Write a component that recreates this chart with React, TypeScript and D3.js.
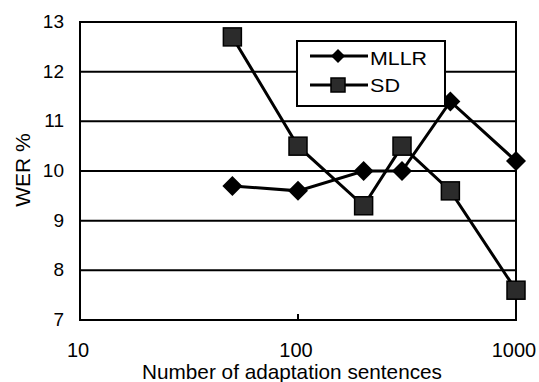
import React from "react";
import * as d3 from "d3";

const sentences = [50, 100, 200, 300, 500, 1000];
const mllr = [9.7, 9.6, 10.0, 10.0, 11.4, 10.2];
const sd = [12.7, 10.5, 9.3, 10.5, 9.6, 7.6];
const yTicks = [7, 8, 9, 10, 11, 12, 13];
const xTicks = [10, 100, 1000];

const width = 539;
const height = 382;
const margin = { left: 80, right: 23, top: 22, bottom: 62 };

const App: React.FC = () => {
  const x = d3
    .scaleLog()
    .domain([10, 1000])
    .range([margin.left, width - margin.right]);
  const y = d3
    .scaleLinear()
    .domain([7, 13])
    .range([height - margin.bottom, margin.top]);

  const line = d3
    .line<number>()
    .x((_, i) => x(sentences[i]))
    .y((d) => y(d));

  const font = "Liberation Sans, Arial, sans-serif";
  const diamond = (cx: number, cy: number, r = 10) =>
    `M${cx},${cy - r}L${cx + r},${cy}L${cx},${cy + r}L${cx - r},${cy}Z`;
  const sq = 18;

  return (
    <svg
      width={width}
      height={height}
      style={{ position: "absolute", left: 0, top: 0, background: "#fff" }}
      fontFamily={font}
    >
      {/* grid */}
      {yTicks.map((t) => (
        <line
          key={t}
          x1={x(10)}
          x2={x(1000)}
          y1={y(t)}
          y2={y(t)}
          stroke="#000"
          strokeWidth={2}
        />
      ))}
      <rect
        x={x(10)}
        y={y(13)}
        width={x(1000) - x(10)}
        height={y(7) - y(13)}
        fill="none"
        stroke="#000"
        strokeWidth={2}
      />
      <line x1={x(100)} x2={x(100)} y1={y(7)} y2={y(7) - 6} stroke="#000" strokeWidth={2} />

      {/* tick labels */}
      {yTicks.map((t) => (
        <text key={t} x={64} y={y(t) - 1} dy="0.36em" textAnchor="end" fontSize={19}>
          {t}
        </text>
      ))}
      {xTicks.map((t) => (
        <text key={t} x={x(t) - 2} y={350} dy="0.36em" textAnchor="middle" fontSize={20}>
          {t}
        </text>
      ))}
      <text
        x={292}
        y={371}
        dy="0.36em"
        textAnchor="middle"
        fontSize={21}
        textLength={300}
        lengthAdjust="spacingAndGlyphs"
      >
        Number of adaptation sentences
      </text>
      <text
        transform={`translate(22,${y(10) - 1}) rotate(-90)`}
        dy="0.36em"
        textAnchor="middle"
        fontSize={21}
      >
        WER %
      </text>

      {/* series */}
      <path d={line(mllr) ?? ""} fill="none" stroke="#000" strokeWidth={3} />
      <path d={line(sd) ?? ""} fill="none" stroke="#000" strokeWidth={3} />
      {mllr.map((v, i) => (
        <path key={"m" + i} d={diamond(x(sentences[i]), y(v))} fill="#000" />
      ))}
      {sd.map((v, i) => (
        <rect
          key={"s" + i}
          x={x(sentences[i]) - sq / 2}
          y={y(v) - sq / 2}
          width={sq}
          height={sq}
          fill="#2b2b2b"
          stroke="#000"
          strokeWidth={1.5}
        />
      ))}

      {/* legend */}
      <rect x={297} y={41} width={148} height={65} fill="#fff" stroke="#000" strokeWidth={2} />
      <line x1={310} x2={368} y1={56} y2={56} stroke="#000" strokeWidth={3} />
      <path d={diamond(338, 56, 7)} fill="#000" />
      <text x={370} y={58} dy="0.36em" fontSize={19} textLength={57} lengthAdjust="spacingAndGlyphs">
        MLLR
      </text>
      <line x1={310} x2={368} y1={85} y2={85} stroke="#000" strokeWidth={3} />
      <rect x={331} y={78} width={14} height={14} fill="#2b2b2b" stroke="#000" strokeWidth={1.5} />
      <text x={370} y={85} dy="0.36em" fontSize={19} textLength={30} lengthAdjust="spacingAndGlyphs">
        SD
      </text>
    </svg>
  );
};

export default App;
